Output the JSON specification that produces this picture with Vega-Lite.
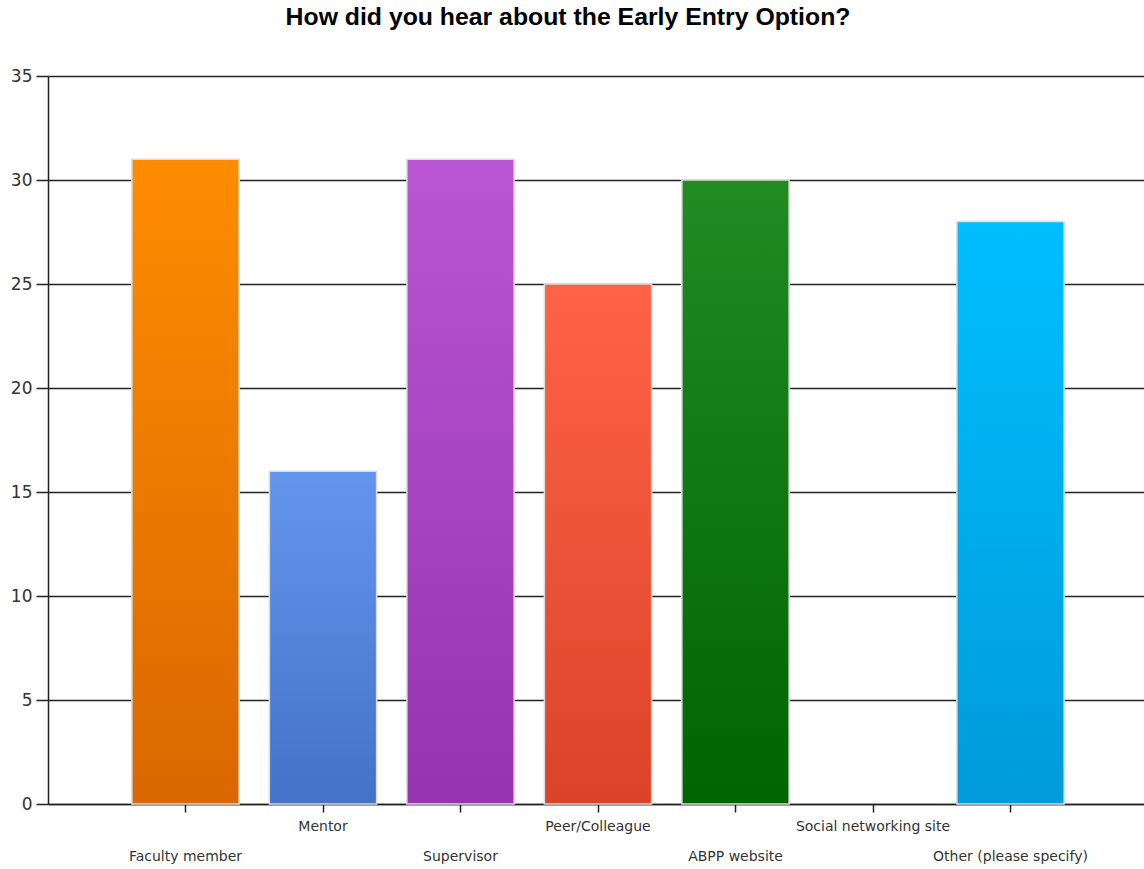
{
  "$schema": "https://vega.github.io/schema/vega-lite/v6.json",
  "width": 1096,
  "height": 728,
  "autosize": "none",
  "padding": {"left": 48, "top": 76, "right": 0, "bottom": 65},
  "background": "white",
  "title": {
    "text": "How did you hear about the Early Entry Option?",
    "font": "Liberation Sans",
    "fontSize": 24.8,
    "fontWeight": "bold",
    "color": "#000000",
    "anchor": "middle",
    "frame": "group",
    "dx": -28,
    "offset": 37
  },
  "config": {"view": {"stroke": null}},
  "data": {
    "values": [
      {"source": "Faculty member", "count": 31},
      {"source": "Mentor", "count": 16},
      {"source": "Supervisor", "count": 31},
      {"source": "Peer/Colleague", "count": 25},
      {"source": "ABPP website", "count": 30},
      {"source": "Social networking site", "count": 0},
      {"source": "Other (please specify)", "count": 28}
    ]
  },
  "mark": {"type": "bar", "stroke": "#dddddd", "strokeWidth": 1.5},
  "encoding": {
    "x": {
      "field": "source",
      "type": "nominal",
      "sort": null,
      "scale": {"paddingInner": 0.22, "paddingOuter": 0.61, "range": [0, 1100]},
      "axis": {
        "title": null,
        "labelAngle": 0,
        "labelFont": "DejaVu Sans",
        "labelFontSize": 14,
        "labelColor": "#333333",
        "labelPadding": {
          "condition": {"test": "indexof(['Mentor','Peer/Colleague','Social networking site'], datum.value) >= 0", "value": 7},
          "value": 37
        },
        "tickSize": 8,
        "tickColor": "#222222",
        "tickWidth": 1.5,
        "domainColor": "#222222",
        "domainWidth": 1.5,
        "grid": false
      }
    },
    "y": {
      "field": "count",
      "type": "quantitative",
      "scale": {"domain": [0, 35], "nice": false},
      "axis": {
        "title": null,
        "values": [0, 5, 10, 15, 20, 25, 30, 35],
        "labelFont": "DejaVu Sans",
        "labelFontSize": 17,
        "labelColor": "#333333",
        "labelPadding": 4,
        "tickSize": 12,
        "tickColor": "#222222",
        "tickWidth": 1.5,
        "domainColor": "#222222",
        "domainWidth": 1.5,
        "grid": true,
        "gridColor": "#222222",
        "gridWidth": 1.5
      }
    },
    "fill": {
      "condition": [
        {"test": "datum.source === 'Faculty member'", "value": {"gradient": "linear", "x1": 0, "y1": 0, "x2": 0, "y2": 1, "stops": [{"offset": 0, "color": "#FF8C00"}, {"offset": 1, "color": "#D96800"}]}},
        {"test": "datum.source === 'Mentor'", "value": {"gradient": "linear", "x1": 0, "y1": 0, "x2": 0, "y2": 1, "stops": [{"offset": 0, "color": "#6495ED"}, {"offset": 1, "color": "#4472C8"}]}},
        {"test": "datum.source === 'Supervisor'", "value": {"gradient": "linear", "x1": 0, "y1": 0, "x2": 0, "y2": 1, "stops": [{"offset": 0, "color": "#BA55D3"}, {"offset": 1, "color": "#9534AE"}]}},
        {"test": "datum.source === 'Peer/Colleague'", "value": {"gradient": "linear", "x1": 0, "y1": 0, "x2": 0, "y2": 1, "stops": [{"offset": 0, "color": "#FF6347"}, {"offset": 1, "color": "#DB4328"}]}},
        {"test": "datum.source === 'ABPP website'", "value": {"gradient": "linear", "x1": 0, "y1": 0, "x2": 0, "y2": 1, "stops": [{"offset": 0, "color": "#228B22"}, {"offset": 1, "color": "#006400"}]}},
        {"test": "datum.source === 'Other (please specify)'", "value": {"gradient": "linear", "x1": 0, "y1": 0, "x2": 0, "y2": 1, "stops": [{"offset": 0, "color": "#00BFFF"}, {"offset": 1, "color": "#009BDA"}]}}
      ],
      "value": "#999999"
    },
    "strokeOpacity": {
      "condition": {"test": "datum.count === 0", "value": 0},
      "value": 1
    }
  }
}
